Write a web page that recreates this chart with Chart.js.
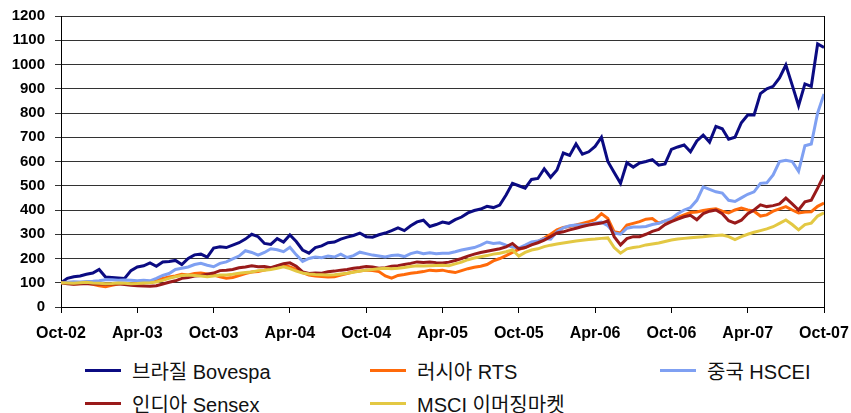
<!DOCTYPE html>
<html>
<head>
<meta charset="utf-8">
<script src="https://cdn.jsdelivr.net/npm/chart.js@4.4.1/dist/chart.umd.min.js"></script>
<style>
  html, body { margin: 0; padding: 0; background: #fff; }
  #wrap { position: relative; width: 851px; height: 413px; overflow: hidden; }
  #cv { position: absolute; left: 0; top: 0; }
  .lg { position: absolute; height: 24px; display: flex; align-items: center; }
  .lg .sw { width: 36px; height: 3px; margin-right: 11px; }
  .lg span { font-family: "Liberation Sans", "Noto Sans CJK KR", sans-serif; font-size: 20px; color: #111; white-space: nowrap; }
</style>
</head>
<body>
<div id="wrap">
  <canvas id="cv" width="851" height="345"></canvas>
</div>
<script>
// Time index: months since Oct-02, half-month steps (categories)
const months = Array.from({ length: 121 }, (_, i) => i / 2);
const tickLabels = ['Oct-02','Apr-03','Oct-03','Apr-04','Oct-04','Apr-05','Oct-05','Apr-06','Oct-06','Apr-07','Oct-07'];
const seriesNames = ['브라질 Bovespa', '러시아 RTS', '중국 HSCEI', '인디아 Sensex', 'MSCI 이머징마켓'];

const bovespa = [
  100,118,125,128,135,140,155,124,122,120,
  118,150,165,170,182,168,186,188,192,175,
  200,215,218,206,243,248,245,255,265,280,
  300,290,262,258,282,268,297,270,235,222,
  245,252,265,268,280,288,295,305,290,288,
  298,305,315,326,315,335,351,358,332,340,
  350,345,360,371,388,398,404,415,410,420,
  462,510,500,490,526,530,570,535,565,635,
  625,672,630,640,662,700,600,555,510,595,
  577,594,600,608,585,590,650,660,668,640,
  685,709,680,745,735,692,700,760,792,792,
  880,900,910,945,998,915,830,920,910,1085,
  1070
];
const rts = [
  100,98,95,96,98,94,88,84,90,95,
  97,94,98,100,103,110,118,124,128,135,
  132,138,140,136,132,125,119,122,130,138,
  144,146,152,160,168,173,165,155,142,132,
  128,126,124,125,132,138,145,148,152,150,
  146,128,119,130,134,139,142,146,152,150,
  152,146,142,150,158,164,168,175,190,200,
  212,225,238,245,258,270,284,300,318,328,
  332,338,345,352,360,385,365,310,305,338,
  345,352,362,365,346,355,358,370,380,390,
  392,398,402,405,395,388,400,408,400,395,
  375,380,395,405,414,400,388,392,393,415,
  429
];
const hscei = [
  100,102,104,103,105,106,108,112,112,110,
  111,110,108,110,108,118,130,138,155,160,
  165,175,180,172,166,180,186,198,210,232,
  225,214,225,240,236,228,246,215,188,200,
  206,203,210,206,218,204,212,226,220,214,
  210,206,212,214,208,220,227,220,224,220,
  222,222,228,235,240,245,255,268,262,265,
  255,247,243,255,268,272,282,280,310,326,
  335,338,338,340,345,350,335,305,300,325,
  330,330,332,340,345,355,365,385,400,410,
  440,495,485,475,470,440,435,450,465,475,
  510,512,545,600,605,600,560,665,672,800,
  878
];
const sensex = [
  100,96,94,96,97,95,96,94,95,96,
  93,90,88,87,86,88,95,102,108,118,
  122,128,130,135,140,150,152,155,162,165,
  170,166,167,162,170,178,182,168,145,138,
  140,139,145,148,152,155,160,163,167,165,
  160,162,168,170,175,180,186,184,186,183,
  181,185,192,200,210,218,225,230,235,240,
  248,262,240,245,256,265,276,290,305,310,
  318,325,332,338,342,346,355,290,256,282,
  290,290,300,312,320,340,352,362,372,378,
  360,385,395,400,385,356,346,358,385,400,
  421,414,418,425,449,425,400,434,440,490,
  544
];
const msciEM = [
  100,99,98,100,102,99,98,96,97,99,
  98,96,97,99,100,103,110,118,125,130,
  132,130,128,125,128,132,132,135,139,142,
  144,150,152,155,160,166,158,148,140,136,
  134,133,132,133,136,139,143,148,152,155,
  158,160,158,160,163,167,170,169,170,171,
  172,170,178,185,195,202,207,212,218,222,
  228,235,210,225,235,240,249,255,260,264,
  268,272,275,278,280,283,285,245,222,240,
  245,249,256,260,264,270,276,280,283,286,
  288,290,293,295,297,290,278,290,300,308,
  315,322,331,345,359,340,318,340,346,375,
  388
];

const seriesValues = [bovespa, rts, hscei, sensex, msciEM];
const colors = ['#0B0B82', '#FF6A0A', '#7FA0F2', '#991A1A', '#E3C843'];

const datasets = seriesValues.map((vals, k) => ({
  label: seriesNames[k],
  data: vals.map((v, i) => ({ x: months[i], y: v })),
  borderColor: colors[k],
  backgroundColor: colors[k],
  borderWidth: 3,
  pointRadius: 0,
  tension: 0,
  fill: false,
  order: seriesValues.length - k
}));

const rightBorder = {
  id: 'rightBorder',
  afterDraw(chart) {
    const { ctx, chartArea } = chart;
    ctx.save();
    ctx.strokeStyle = '#000';
    ctx.lineWidth = 1;
    ctx.beginPath();
    ctx.moveTo(Math.round(chartArea.right) + 0.5, chartArea.top);
    ctx.lineTo(Math.round(chartArea.right) + 0.5, chartArea.bottom);
    ctx.stroke();
    ctx.restore();
  }
};

new Chart(document.getElementById('cv'), {
  type: 'line',
  data: { datasets },
  plugins: [rightBorder],
  options: {
    responsive: false,
    animation: false,
    layout: { padding: { left: 0, right: 27, top: 16, bottom: 0 } },
    plugins: { legend: { display: false }, tooltip: { enabled: false } },
    scales: {
      x: {
        type: 'linear',
        min: 0, max: 60,
        afterFit(s) { s.height = 38; s.paddingLeft = 0; s.paddingRight = 0; },
        grid: { drawOnChartArea: false, drawTicks: true, tickLength: 6, color: '#000' },
        border: { color: '#000', width: 1 },
        ticks: {
          stepSize: 6,
          autoSkip: false,
          maxRotation: 0,
          padding: 11,
          color: '#000',
          font: { family: 'Liberation Sans', size: 16, weight: 'bold' },
          callback: (v) => tickLabels[Math.round(v / 6)]
        }
      },
      y: {
        min: 0, max: 1200,
        afterFit(s) { s.width = 61; s.paddingTop = 0; s.paddingBottom = 0; },
        grid: { color: '#333', lineWidth: 1, tickLength: 6 },
        border: { color: '#000', width: 1 },
        ticks: {
          stepSize: 100,
          padding: 10,
          color: '#000',
          font: { family: 'Liberation Sans', size: 15, weight: 'bold' },
          callback: (v) => String(v)
        }
      }
    }
  }
});

// HTML legend
const legendPos = [[85, 370], [370, 370], [660, 370], [85, 403], [370, 403]];
const wrap = document.getElementById('wrap');
seriesNames.forEach((name, k) => {
  const d = document.createElement('div');
  d.className = 'lg';
  d.style.left = legendPos[k][0] + 'px';
  d.style.top = (legendPos[k][1] - 12) + 'px';
  const sw = document.createElement('div');
  sw.className = 'sw';
  sw.style.background = colors[k];
  const t = document.createElement('span');
  t.textContent = name;
  d.appendChild(sw);
  d.appendChild(t);
  wrap.appendChild(d);
});
</script>
</body>
</html>
